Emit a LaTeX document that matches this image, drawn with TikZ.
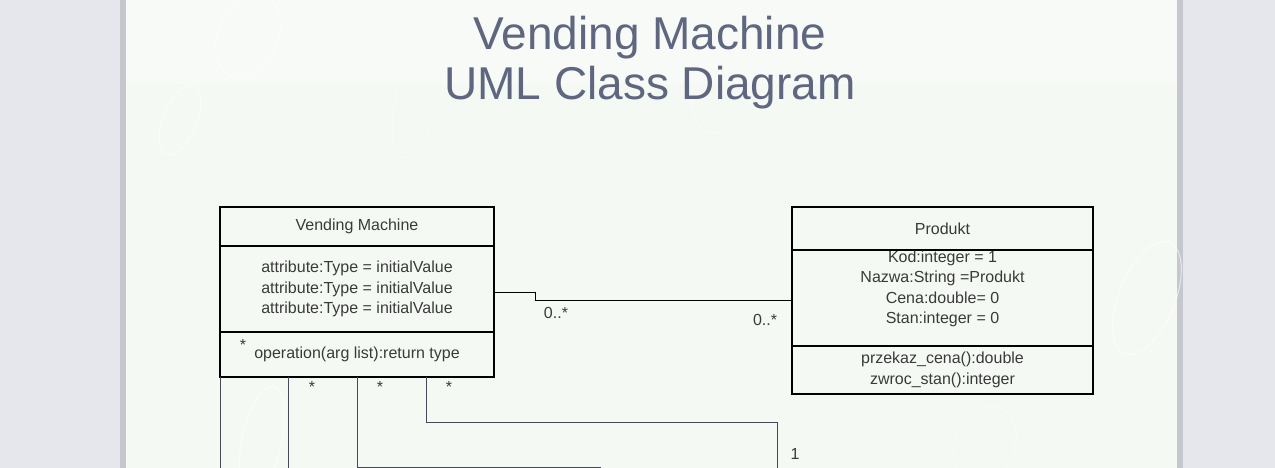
\documentclass[tikz,border=0pt]{standalone}
\usepackage{fontspec}
\setmainfont{Liberation Sans}
\usetikzlibrary{positioning}

\definecolor{pagebg}{HTML}{F5F9F4}
\definecolor{pagetop}{HTML}{F8FAF7}
\definecolor{deskbg}{HTML}{E6E7EC}
\definecolor{pageshadow}{HTML}{C6C7CC}
\definecolor{titleblue}{HTML}{5E6680}
\definecolor{boxtext}{HTML}{3A3A3A}
\definecolor{wire}{HTML}{454958}

\newcommand{\umlfont}{\fontsize{16}{20.5}\selectfont}
\newcommand{\titlefont}{\fontsize{46}{50}\selectfont}

\tikzset{
  classpart/.style={draw=black, line width=2pt, inner sep=0pt, outer sep=0pt,
    align=center, font=\umlfont, text=boxtext},
  vmpart/.style={classpart, minimum width=274pt},
  prodpart/.style={classpart, minimum width=301pt},
  multlabel/.style={font=\umlfont, text=boxtext, inner sep=0pt, anchor=base},
  bubble/.style={draw=white, line width=1pt, opacity=0.6},
  assoc/.style={draw=black, line width=0.8pt},
  wirelink/.style={draw=wire, line width=0.9pt}
}

\begin{document}
\begin{tikzpicture}[x=1pt,y=-1pt]
\useasboundingbox (0,0) rectangle (1275,468);

% page and desk
\fill[deskbg] (0,0) rectangle (1275,468);
\fill[pageshadow] (120,0) rectangle (127,468);
\fill[pageshadow] (1176,0) rectangle (1183,468);
\fill[pagebg] (126,0) rectangle (1177,468);
\fill[pagetop] (126,0) rectangle (1177,84);

% bubbles
\draw[bubble] (248,36) ellipse [x radius=30, y radius=44, rotate=-22];
\draw[bubble] (180,120) ellipse [x radius=17, y radius=37, rotate=-22];
\draw[bubble] (1147,298) ellipse [x radius=28, y radius=60, rotate=-22];
\draw[bubble] (262,440) ellipse [x radius=20, y radius=55, rotate=-12];
\draw[bubble, opacity=0.35] (420,90) ellipse [x radius=22, y radius=70, rotate=-15];
\draw[bubble, opacity=0.35] (725,85) ellipse [x radius=30, y radius=50, rotate=-20];
\draw[bubble, opacity=0.35] (980,15) ellipse [x radius=20, y radius=40, rotate=-20];
\draw[bubble, opacity=0.35] (985,445) ellipse [x radius=30, y radius=40, rotate=-20];

% title
\node[font=\titlefont, text=titleblue, align=center, inner sep=0pt] (title) at (650,63)
  {Vending Machine\\UML Class Diagram};

% Vending Machine class
\node[vmpart, minimum height=39pt] (vmname) at (357,226.5) {Vending Machine};
\node[vmpart, minimum height=86pt, below=0pt of vmname] (vmattr)
  {attribute:Type = initialValue\\attribute:Type = initialValue\\attribute:Type = initialValue};
\node[vmpart, minimum height=45pt, below=0pt of vmattr] (vmops) {operation(arg list):return type};
\node[multlabel] (opstar) at (243,350) {*};

% Produkt class
\node[prodpart, minimum height=43pt] (prodname) at (942.5,228.5) {Produkt};
\node[prodpart, minimum height=96pt, below=0pt of prodname] (prodattr) {};
\node[font=\umlfont, text=boxtext, align=center, inner sep=0pt] (prodattrtext)
  at ([yshift=9pt]prodattr.center)
  {Kod:integer = 1\\Nazwa:String =Produkt\\Cena:double= 0\\Stan:integer = 0};
\node[prodpart, minimum height=48pt, below=0pt of prodattr] (prodops)
  {przekaz\_cena():double\\zwroc\_stan():integer};

% association
\coordinate (bendA) at (535,292.5);
\coordinate (bendB) at (535,300);
\draw[assoc] (vmattr.east |- bendA) -- (bendA) -- (bendB) -- (prodattr.west |- bendB);
\node[multlabel] (multvm) at (556,318.5) {0..*};
\node[multlabel] (multprod) at (765,325) {0..*};

% links leaving the page
\coordinate (endA) at (220,468);
\coordinate (endB) at (288,468);
\coordinate (endC) at (601,467);
\coordinate (turnD) at (426,422);
\coordinate (endD) at (777,468);
\draw[wirelink] (vmops.south west) -- (endA);
\draw[wirelink] (vmops.south -| endB) -- (endB);
\draw[wirelink] (vmops.south -| 357,0) |- (endC);
\draw[wirelink] (vmops.south -| turnD) -- (turnD) -| (endD);
\node[multlabel] (starB) at (312,392) {*};
\node[multlabel] (starC) at (380,392) {*};
\node[multlabel] (starD) at (449,392) {*};
\node[multlabel] (oneD) at (795,459) {1};
\end{tikzpicture}
\end{document}
